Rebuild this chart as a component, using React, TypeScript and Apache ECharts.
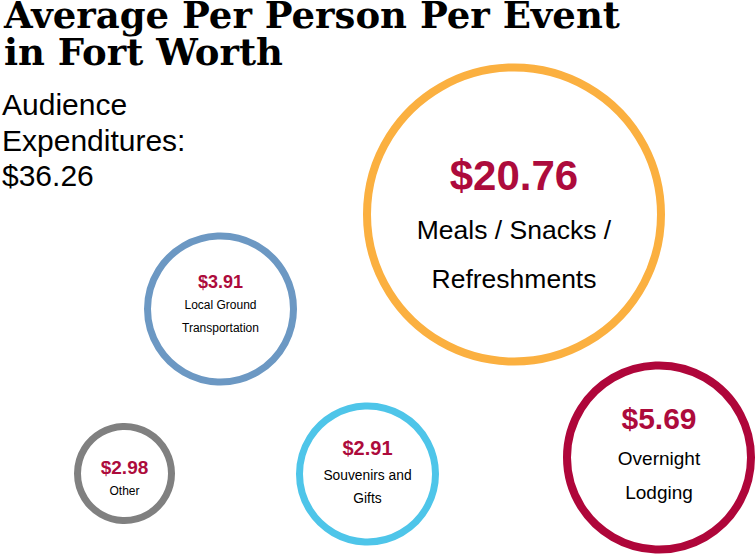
import React, { useEffect, useRef } from "react";
import * as echarts from "echarts";

// ---- data ----
const categories = [
  "Meals / Snacks /\nRefreshments",
  "Local Ground\nTransportation",
  "Other",
  "Souvenirs and\nGifts",
  "Overnight\nLodging",
];
const values = [20.76, 3.91, 2.98, 2.91, 5.69];
const totalLabel = "Audience\nExpenditures:\n$36.26";
const titleLines = ["Average Per Person Per Event", "in Fort Worth"];

// ---- layout (positions in pixel-like axis units, not data) ----
const centerX = [514, 220.5, 124.5, 367.5, 659];
const centerY = [214.5, 309, 473.5, 474, 457.5];
const diameters = [294, 146, 94, 136, 184];
const ringWidths = [8, 7, 7, 7, 8];
const ringColors = ["#FBB040", "#6C98C3", "#808080", "#4EC5E9", "#AF063A"];
const valueFont = [42, 18, 19, 20, 30];
const valueLH = [59, 24.5, 26, 31, 46];
const nameFont = [26.5, 12, 12, 13.8, 19];
const nameLH = [49, 23, 22, 23, 34];
const labelDy = [10, -4.5, 4.5, -3, -5.5];

export default function App() {
  const ref = useRef<HTMLDivElement>(null);
  useEffect(() => {
    document.body.style.margin = "0";
    if (!ref.current) return;
    const chart = echarts.init(ref.current, undefined, { renderer: "svg" });

    const rich: Record<string, any> = {};
    values.forEach((_, i) => {
      rich["v" + i] = {
        fontFamily: "Liberation Sans",
        fontWeight: "bold",
        fontSize: valueFont[i],
        lineHeight: valueLH[i],
        color: "#AD0B3C",
      };
      rich["n" + i] = {
        fontFamily: "Liberation Sans",
        fontSize: nameFont[i],
        lineHeight: nameLH[i],
        color: "#000000",
      };
    });

    const data = values.map((v, i) => ({
      value: [centerX[i], centerY[i], v],
      name: categories[i],
      symbolSize: diameters[i],
      itemStyle: {
        color: "#ffffff",
        borderColor: ringColors[i],
        borderWidth: ringWidths[i],
        opacity: 1,
      },
      label: {
        show: true,
        position: "inside",
        offset: [0, labelDy[i]],
        formatter: () =>
          `{v${i}|$${v.toFixed(2)}}\n` +
          categories[i]
            .split("\n")
            .map((s) => `{n${i}|${s}}`)
            .join("\n"),
        rich,
      },
    }));

    const titleStyle = {
      fontFamily: "DejaVu Serif",
      fontWeight: "bold",
      fontSize: 37,
      lineHeight: 29,
      color: "#000000",
    };

    chart.setOption({
      animation: false,
      backgroundColor: "#ffffff",
      title: [
        { text: titleLines[0], left: 4, top: 0, padding: 0, textStyle: titleStyle },
        { text: titleLines[1], left: 4, top: 37, padding: 0, textStyle: titleStyle },
        {
          text: totalLabel,
          left: 2,
          top: 87,
          padding: 0,
          textStyle: {
            fontFamily: "Liberation Sans",
            fontWeight: "normal",
            fontSize: 30,
            lineHeight: 35.5,
            color: "#000000",
          },
        },
      ],
      grid: { left: 0, right: 0, top: 0, bottom: 0 },
      xAxis: { type: "value", min: 0, max: 756, show: false },
      yAxis: { type: "value", min: 0, max: 554, inverse: true, show: false },
      series: [
        {
          type: "scatter",
          symbol: "circle",
          silent: true,
          itemStyle: { opacity: 1 },
          emphasis: { disabled: true },
          data,
        },
      ],
    });
    return () => chart.dispose();
  }, []);
  return <div ref={ref} style={{ width: 756, height: 554 }} />;
}
